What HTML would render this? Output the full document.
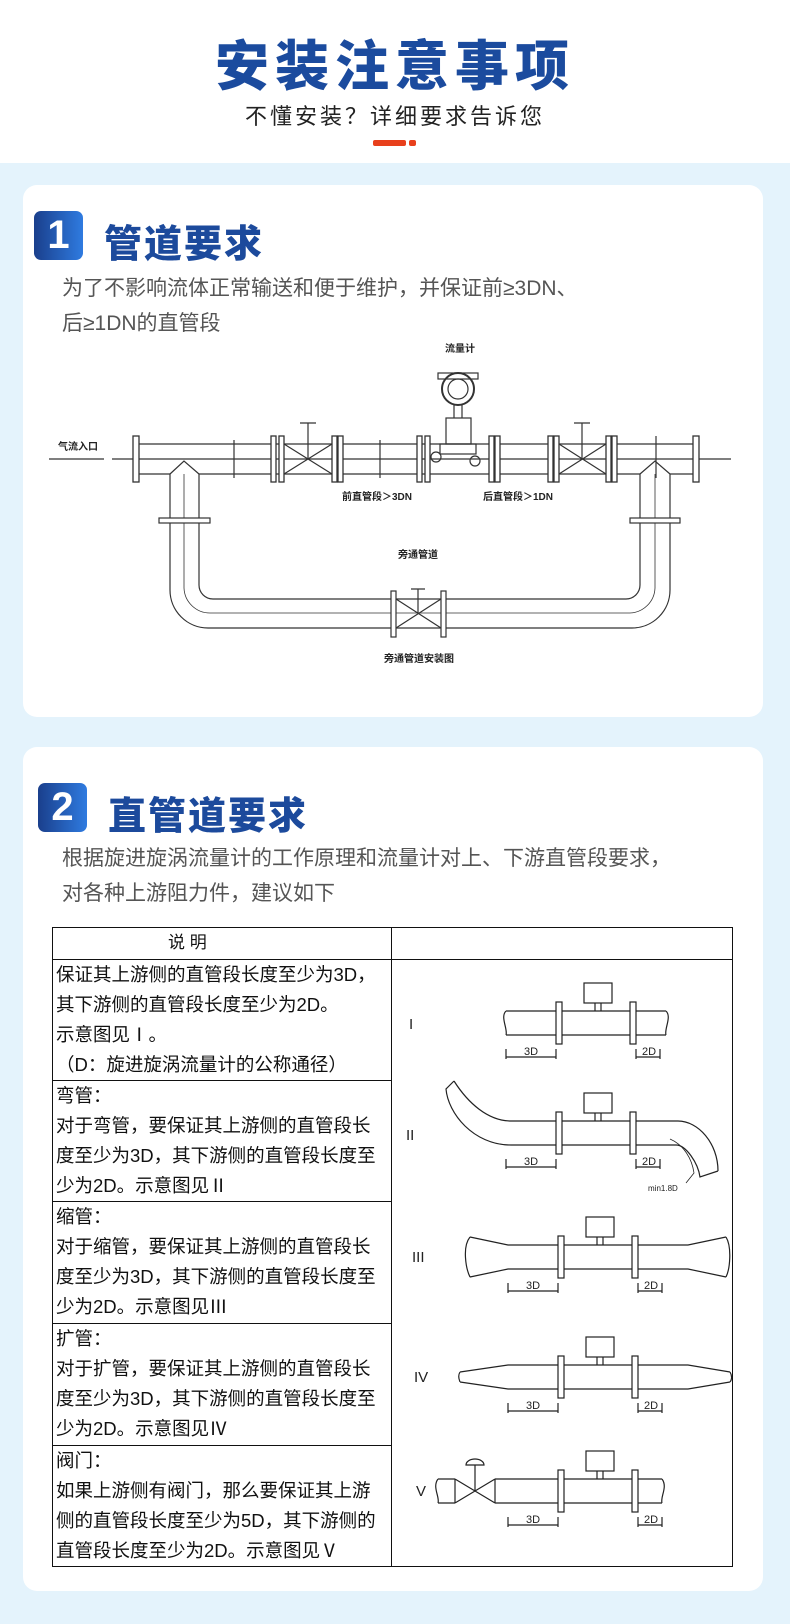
<!DOCTYPE html>
<html><head><meta charset="utf-8"><style>
*{margin:0;padding:0;box-sizing:border-box}
body{width:790px;height:1624px;background:#e4f3fc;font-family:"Liberation Sans","Noto Sans CJK SC",sans-serif;position:relative;overflow:hidden}
.top{position:absolute;left:0;top:0;width:790px;height:163px;background:#fff}
.t1{position:absolute;left:0;width:790px;top:22px;text-align:center;font-size:54px;font-weight:900;color:#1b4b9e;letter-spacing:6px}
.t2{position:absolute;left:0;width:790px;top:99px;text-align:center;font-size:22px;color:#222;letter-spacing:3px}
.card{position:absolute;left:23px;width:740px;background:#fff;border-radius:14px}
.badge{position:absolute;width:49px;height:49px;border-radius:7px;background:linear-gradient(90deg,#1a3f8c,#2f7be0);color:#fff;font-size:40px;font-weight:900;text-align:center;line-height:49px}
.h{position:absolute;font-size:38px;font-weight:900;color:#1c4a9c;letter-spacing:2px}
.p{position:absolute;font-size:21px;color:#555;line-height:35px}
table{position:absolute;left:52px;top:927px;width:681px;border-collapse:collapse;table-layout:fixed}
td{border:1.5px solid #111;font-size:18.5px;line-height:30px;color:#111;vertical-align:top;padding:0 3px;overflow:hidden}
svg text{font-family:"Liberation Sans","Noto Sans CJK SC",sans-serif}
</style></head><body>
<div class="top"></div>
<div class="t1">安装注意事项</div>
<div class="t2">不懂安装？详细要求告诉您</div>
<div style="position:absolute;left:373px;top:140px;width:33px;height:6px;background:#e8401c;border-radius:2px"></div>
<div style="position:absolute;left:409px;top:140px;width:7px;height:6px;background:#e8401c;border-radius:2px"></div>

<div class="card" style="top:185px;height:532px"></div>
<div class="badge" style="left:34px;top:211px">1</div>
<div class="h" style="left:104px;top:213px">管道要求</div>
<div class="p" style="left:62px;top:271px">为了不影响流体正常输送和便于维护，并保证前≥3DN、<br>后≥1DN的直管段</div>

<svg style="position:absolute;left:0;top:0" width="790" height="720" fill="none" stroke="#333" stroke-width="1.2">
<line x1="49" y1="459" x2="104" y2="459"/><line x1="112" y1="459" x2="731" y2="459"/>
<line x1="136" y1="444" x2="696" y2="444"/><line x1="136" y1="474" x2="170" y2="474"/><line x1="199" y1="474" x2="640" y2="474"/><line x1="670" y1="474" x2="696" y2="474"/>
<g fill="#fff" stroke-width="1.3">
<rect x="133" y="436" width="6" height="46"/><rect x="271" y="436" width="5" height="46"/><rect x="279" y="436" width="5" height="46"/>
<rect x="332" y="436" width="5" height="46"/><rect x="338" y="436" width="5" height="46"/><rect x="417" y="436" width="5" height="46"/><rect x="425" y="436" width="5" height="46"/>
<rect x="489" y="436" width="5" height="46"/><rect x="495" y="436" width="5" height="46"/><rect x="548" y="436" width="5" height="46"/><rect x="554" y="436" width="5" height="46"/>
<rect x="606" y="436" width="5" height="46"/><rect x="612" y="436" width="5" height="46"/><rect x="693" y="436" width="6" height="46"/>
</g>
<path d="M284 444L332 474M284 474L332 444M308 459V423M300 423H316"/>
<path d="M559 444L606 474M559 474L606 444M582 459V423M574 423H590"/>
<line x1="234" y1="440" x2="234" y2="478"/><line x1="380" y1="440" x2="380" y2="478"/><line x1="656" y1="436" x2="656" y2="478"/>
<path d="M170 474L184 461L199 474M640 474L655 461L670 474"/>
<path d="M170 474V590A38 38 0 0 0 208 628H632A38 38 0 0 0 670 590V474"/>
<path d="M199 474V585A14 14 0 0 0 213 599H626A14 14 0 0 0 640 585V474"/>
<path d="M184 474V588A26 26 0 0 0 210 613H630A26 26 0 0 0 655 588V474" stroke-width="0.8"/>
<rect x="159" y="518" width="51" height="5" fill="#fff"/><rect x="630" y="518" width="50" height="5" fill="#fff"/>
<rect x="391" y="591" width="5" height="46" fill="#fff"/><rect x="441" y="591" width="5" height="46" fill="#fff"/>
<path d="M396 599L441 628M396 628L441 599M418 613V589M411 589H425"/>
<rect x="438" y="373" width="40" height="6" fill="#fff"/>
<circle cx="458" cy="389" r="16" stroke-width="2"/><circle cx="458" cy="389" r="10"/>
<rect x="446" y="418" width="25" height="26"/><rect x="440" y="444" width="36" height="10"/>
<circle cx="436" cy="457" r="5"/><circle cx="475" cy="461" r="5"/><path d="M454 405V418M462 405V418"/>
<g fill="#222" stroke="none" font-size="10" font-weight="bold">
<text x="445" y="352">流量计</text><text x="58" y="450">气流入口</text>
<text x="342" y="500">前直管段＞3DN</text><text x="483" y="500">后直管段＞1DN</text>
<text x="398" y="558">旁通管道</text><text x="384" y="662">旁通管道安装图</text></g>
</svg>

<div class="card" style="top:747px;height:844px"></div>
<div class="badge" style="left:38px;top:783px">2</div>
<div class="h" style="left:108px;top:785px">直管道要求</div>
<div class="p" style="left:62px;top:841px">根据旋进旋涡流量计的工作原理和流量计对上、下游直管段要求，<br>对各种上游阻力件，建议如下</div>

<table>
<colgroup><col style="width:339px"><col></colgroup>
<tr style="height:32px"><td style="padding-left:115px;line-height:30px;font-size:17px">说 明</td><td></td></tr>
<tr style="height:121px"><td>保证其上游侧的直管段长度至少为3D，<br>其下游侧的直管段长度至少为2D。<br>示意图见Ⅰ。<br>（D：旋进旋涡流量计的公称通径）</td><td rowspan="5"></td></tr>
<tr style="height:121px"><td>弯管：<br>对于弯管，要保证其上游侧的直管段长度至少为3D，其下游侧的直管段长度至少为2D。示意图见Ⅱ</td></tr>
<tr style="height:122px"><td>缩管：<br>对于缩管，要保证其上游侧的直管段长度至少为3D，其下游侧的直管段长度至少为2D。示意图见Ⅲ</td></tr>
<tr style="height:122px"><td>扩管：<br>对于扩管，要保证其上游侧的直管段长度至少为3D，其下游侧的直管段长度至少为2D。示意图见Ⅳ</td></tr>
<tr style="height:119px"><td>阀门：<br>如果上游侧有阀门，那么要保证其上游侧的直管段长度至少为5D，其下游侧的直管段长度至少为2D。示意图见Ⅴ</td></tr>
</table>

<svg style="position:absolute;left:0;top:0" width="790" height="1624" fill="none" stroke="#222" stroke-width="1.2">
<defs>
<g id="m">
<rect x="-2" y="-21" width="6" height="42" fill="#fff"/><rect x="72" y="-21" width="6" height="42" fill="#fff"/>
<line x1="4" y1="-12" x2="72" y2="-12"/><line x1="4" y1="12" x2="72" y2="12"/>
<rect x="26" y="-40" width="28" height="20" fill="#fff"/><path d="M37 -20V-12M43 -20V-12"/>
<path d="M-2 34H-52M78 34H102M-52 26V36M-2 26V36M78 26V36M102 26V36"/>
<text x="-34" y="32" font-size="11" fill="#222" stroke="none">3D</text><text x="84" y="32" font-size="11" fill="#222" stroke="none">2D</text>
</g>
</defs>
<g font-family="Liberation Serif" font-size="15" fill="#222" stroke="none">
<text x="409" y="1029">I</text><text x="406" y="1140">II</text><text x="412" y="1262">III</text><text x="414" y="1382">IV</text><text x="416" y="1496">V</text></g>
<g transform="translate(558,1023)"><use href="#m"/>
<path d="M-52 -12H-2M-52 12H-2M78 -12H108M78 12H108M-52 -12C-58 -6 -50 6 -52 12M108 -12C114 -6 106 6 108 12"/></g>
<g transform="translate(558,1133)"><use href="#m"/>
<path d="M-2 -12H-47C-70 -12 -90 -30 -104 -52M-2 12H-47C-85 12 -110 -20 -112 -44L-104 -52"/>
<path d="M78 -12H120C140 -12 160 10 160 38M78 12H118C128 12 140 30 142 44L160 38"/>
<path d="M112 6C126 12 134 26 136 40L128 50" stroke-width="0.8"/>
<text x="90" y="58" font-size="8" fill="#222" stroke="none">min1.8D</text></g>
<g transform="translate(560,1257)"><use href="#m"/>
<path d="M-2 -12H-52L-90 -20M-2 12H-52L-90 20M-90 -20C-98 -10 -94 12 -90 20M78 -12H128L166 -20M78 12H128L166 20M166 -20C172 -10 170 12 166 20"/></g>
<g transform="translate(560,1377)"><use href="#m"/>
<path d="M-2 -12H-52L-100 -5M-2 12H-52L-100 5M-100 -5C-103 0 -100 4 -100 5M78 -12H128L170 -5M78 12H128L170 5M170 -5C173 0 171 4 170 5"/></g>
<g transform="translate(560,1491)"><use href="#m"/>
<path d="M-2 -12H-65M-2 12H-65M-65 -12V12M-65 -12L-105 12M-65 12L-105 -12M-105 -12V12M-105 -12H-122M-105 12H-122M-122 -12C-128 -4 -120 6 -122 12M-85 0V-26M-94 -26A9 6 0 0 1 -76 -26Z"/>
<path d="M78 -12H102M78 12H102M102 -12C108 -4 100 6 102 12"/>
</g>
</svg>
</body></html>
